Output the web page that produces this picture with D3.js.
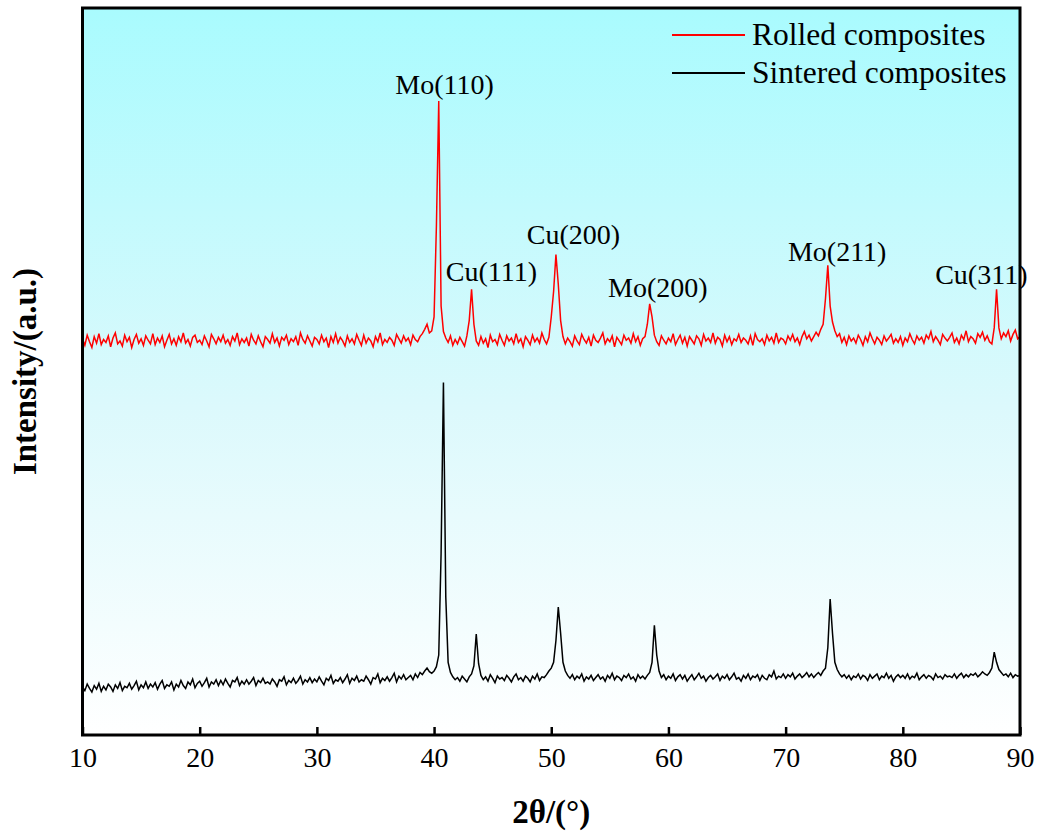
<!DOCTYPE html>
<html>
<head>
<meta charset="utf-8">
<script src="https://cdn.jsdelivr.net/npm/d3@7"></script>
<style>
  body { margin: 0; background: #fff; }
  text { font-family: "Liberation Serif", "Times New Roman", serif; fill: #000; }
</style>
</head>
<body>
<svg id="chart"></svg>
<script>
//////////////////////////
// Data //
//////////////////////////
// XRD scans: 2θ from 10° to 90°, step 0.2°, stacked intensities (a.u.)
const twoThetaStart = 10;
const twoThetaStep = 0.2;

const rolledCounts = [
  545,536,550,541,533,548,539,552,537,544, // 10
  540,549,534,546,553,538,542,535,550,541, // 12
  547,533,544,551,539,545,536,549,543,538, // 14
  552,537,546,540,549,534,543,551,538,545, // 16
  536,548,541,553,539,544,535,547,550,540, // 18
  543,537,549,542,534,551,545,538,547,541, // 20
  550,539,544,536,548,542,553,537,545,540, // 22
  546,535,551,543,538,549,541,534,548,544, // 24
  539,552,540,546,535,547,543,550,537,545, // 26
  541,548,536,553,544,539,549,542,535,547, // 28
  544,538,550,541,546,533,548,540,552,539, // 30
  547,542,535,549,540,545,538,551,543,536, // 32
  550,539,546,542,534,548,541,553,537,544, // 34
  540,547,543,536,551,545,539,549,542,546, // 36
  537,550,544,541,548,552,558,565,553,556, // 38
  575,700,872,590,555,546,540,549,536,544, // 40
  538,547,541,535,549,570,613,565,542,536, // 42
  548,539,545,533,550,541,544,537,551,543, // 44
  536,549,542,546,538,552,540,545,534,548, // 46
  543,537,550,541,546,539,553,544,538,547, // 48
  575,610,661,620,570,548,538,546,541,535, // 50
  549,542,537,551,544,539,547,535,550,543, // 52
  540,546,553,538,545,541,549,534,547,542, // 54
  537,550,543,546,539,552,541,548,536,545, // 56
  548,565,593,575,550,541,536,549,543,538, // 58
  546,541,552,537,544,550,539,547,535,548, // 60
  543,538,549,545,536,551,542,546,540,553, // 62
  539,547,544,535,550,541,548,537,545,542, // 64
  551,540,546,543,538,549,536,552,544,541, // 66
  545,537,550,542,547,539,553,540,546,544, // 68
  538,549,543,551,541,546,537,548,555,545, // 70
  550,542,548,554,549,558,565,600,646,590, // 72
  568,556,548,552,540,547,537,549,542,546, // 74
  539,550,544,536,548,541,553,545,538,547, // 76
  543,537,549,542,546,551,539,545,540,548, // 78
  536,546,541,552,544,538,549,543,547,539, // 80
  550,545,555,541,548,543,537,551,546,542, // 82
  547,553,540,546,538,550,544,556,541,548, // 84
  545,539,552,547,554,543,549,541,538,560, // 86
  613,560,545,553,548,556,542,551,557,545, // 88
  548                                      // 90
];

const sinteredCounts = [
  66,61,70,64,59,68,63,71,60,67, // 10
  62,70,66,60,69,64,72,61,67,65, // 12
  71,63,68,74,62,69,65,73,64,70, // 14
  66,72,63,70,75,64,69,67,73,62, // 16
  70,66,75,68,64,73,69,77,65,71, // 18
  74,67,72,78,66,73,70,76,68,75, // 20
  69,77,71,66,75,73,79,68,74,70, // 22
  76,70,74,79,68,75,72,78,71,73, // 24
  70,77,73,67,76,74,80,69,75,72, // 26
  78,71,75,81,70,76,73,79,72,77, // 28
  73,80,74,69,78,75,82,71,76,74, // 30
  79,72,77,83,71,78,75,81,73,76, // 32
  74,81,76,70,79,77,84,72,78,75, // 34
  80,74,79,85,73,81,77,83,76,79, // 36
  82,76,84,79,86,83,88,92,87,85, // 38
  88,94,110,250,485,190,100,86,80,76, // 40
  79,74,81,77,73,80,84,95,139,98, // 42
  82,76,80,74,83,78,72,81,77,79, // 44
  75,82,78,73,80,84,76,79,74,81, // 46
  78,73,81,77,84,75,80,79,83,88, // 48
  92,100,130,176,140,100,88,82,78,83, // 50
  76,81,78,84,74,80,77,82,75,79, // 52
  83,77,80,74,82,78,85,76,81,79, // 54
  75,82,79,84,77,80,74,83,78,81, // 56
  77,82,86,100,151,110,88,79,83,76, // 58
  81,78,84,75,80,83,77,82,74,79, // 60
  83,76,80,85,78,81,74,79,82,77, // 62
  80,84,75,81,78,83,76,80,85,77, // 64
  79,74,82,78,84,76,81,79,83,75, // 66
  82,78,76,83,80,88,77,81,79,84, // 68
  78,83,80,85,77,81,84,79,82,86, // 70
  80,84,79,83,86,82,88,92,120,187, // 72
  140,100,90,84,80,83,78,82,76,81, // 74
  79,84,77,82,80,75,83,78,81,84, // 76
  76,81,79,85,78,82,74,80,83,79, // 78
  82,78,84,77,81,79,85,76,80,83, // 80
  78,82,80,76,84,79,81,77,83,80, // 82
  81,79,84,78,82,85,79,83,80,84, // 84
  82,85,80,83,87,84,82,86,92,114, // 86
  100,90,86,82,84,80,85,79,83,81, // 88
  82                               // 90
];

const seriesNames = ["Rolled composites", "Sintered composites"];
const seriesColors = ["#ff0000", "#000000"];

const peakLabels = ["Mo(110)", "Cu(111)", "Cu(200)", "Mo(200)", "Mo(211)", "Cu(311)"];
const peakAngles = [40.4, 43.2, 50.4, 58.4, 73.6, 88.0];
const peakLabelIntensity = [882, 624, 675, 603, 652, 620];
const peakLabelShift = [0.5, 1.7, 1.5, 0.7, 0.8, -1.3];

const xTicks = [10, 20, 30, 40, 50, 60, 70, 80, 90];

//////////////////////////
// Chart specifications //
//////////////////////////
const W = 1039, H = 832;
const margin = { top: 8, right: 19, bottom: 97, left: 82.5 };
const innerW = W - margin.left - margin.right;
const innerH = H - margin.top - margin.bottom;

const svg = d3.select("#chart").attr("width", W).attr("height", H);

const x = d3.scaleLinear().domain([10, 90]).range([margin.left, W - margin.right]);
const y = d3.scaleLinear().domain([0, 1000]).range([H - margin.bottom, margin.top]);

const toPoints = (counts) => counts.map((c, i) => [twoThetaStart + i * twoThetaStep, c]);
const series = [toPoints(rolledCounts), toPoints(sinteredCounts)];

// background gradient
const defs = svg.append("defs");
const grad = defs.append("linearGradient")
  .attr("id", "bg").attr("x1", 0).attr("y1", 0).attr("x2", 0).attr("y2", 1);
grad.append("stop").attr("offset", "0%").attr("stop-color", "#a9fbfe");
grad.append("stop").attr("offset", "55%").attr("stop-color", "#dcf9fc");
grad.append("stop").attr("offset", "100%").attr("stop-color", "#ffffff");

svg.append("rect")
  .attr("x", margin.left).attr("y", margin.top)
  .attr("width", innerW).attr("height", innerH)
  .attr("fill", "url(#bg)");

defs.append("clipPath").attr("id", "clip")
  .append("rect")
  .attr("x", margin.left).attr("y", margin.top)
  .attr("width", innerW).attr("height", innerH);

// lines
const line = d3.line().x((d) => x(d[0])).y((d) => y(d[1]));
svg.append("g")
  .attr("clip-path", "url(#clip)")
  .selectAll("path")
  .data(series)
  .join("path")
  .attr("fill", "none")
  .attr("stroke", (d, i) => seriesColors[i])
  .attr("stroke-width", 1.5)
  .attr("stroke-linejoin", "miter")
  .attr("d", line);

// peak labels
svg.append("g")
  .selectAll("text")
  .data(peakLabels)
  .join("text")
  .attr("x", (d, i) => x(peakAngles[i] + peakLabelShift[i]))
  .attr("y", (d, i) => y(peakLabelIntensity[i]))
  .attr("text-anchor", "middle")
  .attr("font-size", 28)
  .text((d) => d);

// x axis with inward ticks
const xAxis = svg.append("g")
  .attr("transform", `translate(0,${H - margin.bottom})`)
  .call(d3.axisBottom(x).tickValues(xTicks).tickSizeInner(-8).tickSizeOuter(0).tickPadding(26))
  .call((g) => g.select(".domain").remove());
xAxis.selectAll(".tick line").attr("stroke", "#000").attr("stroke-width", 2.5);
xAxis.selectAll(".tick text")
  .attr("font-family", "Liberation Serif")
  .attr("font-size", 28)
  .attr("fill", "#000")
  .attr("dy", "0.2em");

// frame
svg.append("rect")
  .attr("x", margin.left).attr("y", margin.top)
  .attr("width", innerW).attr("height", innerH)
  .attr("fill", "none")
  .attr("stroke", "#000")
  .attr("stroke-width", 3);

// axis titles
svg.append("text")
  .attr("x", (margin.left + W - margin.right) / 2)
  .attr("y", 823)
  .attr("text-anchor", "middle")
  .attr("font-size", 33)
  .attr("font-weight", "bold")
  .text("2θ/(°)");

svg.append("text")
  .attr("transform", `translate(36,${margin.top + innerH / 2}) rotate(-90)`)
  .attr("text-anchor", "middle")
  .attr("font-size", 33)
  .attr("font-weight", "bold")
  .text("Intensity/(a.u.)");

// legend
const legend = svg.append("g").attr("transform", "translate(672,35)");
const item = legend.selectAll("g")
  .data(seriesNames)
  .join("g")
  .attr("transform", (d, i) => `translate(0,${i * 38})`);
item.append("line")
  .attr("x1", 0).attr("x2", 73)
  .attr("stroke", (d, i) => seriesColors[i])
  .attr("stroke-width", 2);
item.append("text")
  .attr("x", 80).attr("y", 10)
  .attr("font-size", 31.5)
  .text((d) => d);
</script>
</body>
</html>
